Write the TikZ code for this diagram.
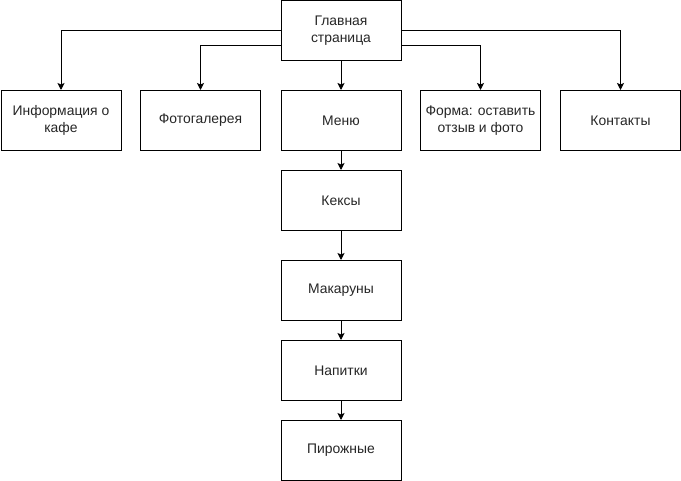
\documentclass[tikz,border=0pt]{standalone}
\usepackage{fontspec}
\setmainfont{Liberation Sans}
\usetikzlibrary{arrows.meta}
\begin{document}
\begin{tikzpicture}[x=1pt,y=-1pt,
  box/.style={draw=black,line width=1pt,rectangle,minimum width=120pt,minimum height=60pt,
    inner sep=2pt,align=center,font=\fontsize{13.9}{16.5}\selectfont,text=black!85},
  arr/.style={draw=black,line width=1pt,-{Stealth[length=7pt,width=7pt,inset=1.5pt]}}]
\useasboundingbox[fill=white] (0,0) rectangle (681,481);
\node[box] (main) at (341,30.5) {Главная\\страница};
\node[box] (info) at (61,120.5) {Информация о\\кафе};
\node[box] (foto) at (200.5,120.5) {Фотогалерея};
\node[box] (menu) at (341,120.5) {Меню};
\node[box] (form) at (480.5,120.5) {Форма: оставить\\отзыв и фото};
\node[box] (cont) at (620.5,120.5) {Контакты};
\node[box] (keks) at (341,200.5) {Кексы};
\node[box] (mak) at (341,290.5) {Макаруны};
\node[box] (nap) at (341,370.5) {Напитки};
\node[box] (pir) at (341,450.5) {Пирожные};
\draw[arr] (main.west) -| (info.north);
\draw[arr] ([yshift=-15pt]main.west) -| (foto.north);
\draw[arr] (main.south) -- (menu.north);
\draw[arr] ([yshift=-15pt]main.east) -| (form.north);
\draw[arr] (main.east) -| (cont.north);
\draw[arr] (menu.south) -- (keks.north);
\draw[arr] (keks.south) -- (mak.north);
\draw[arr] (mak.south) -- (nap.north);
\draw[arr] (nap.south) -- (pir.north);
\end{tikzpicture}
\end{document}
